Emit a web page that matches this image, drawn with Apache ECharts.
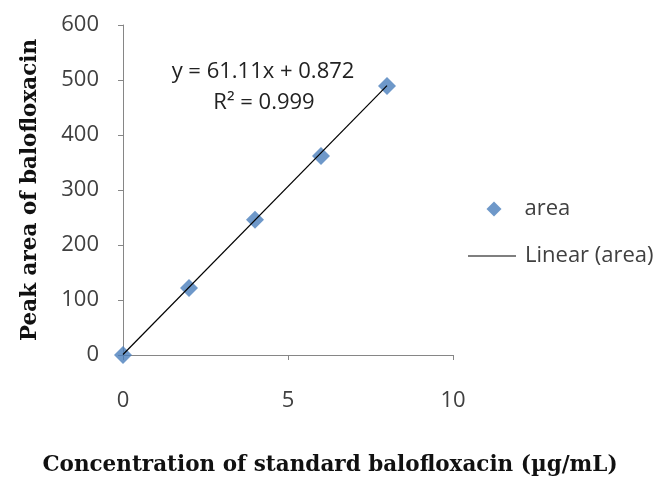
<!DOCTYPE html>
<html>
<head>
<meta charset="utf-8">
<script src="https://cdn.jsdelivr.net/npm/echarts@6/dist/echarts.min.js"></script>
<style>html,body{margin:0;padding:0;background:#fff;overflow:hidden;}#c{width:661px;height:482px;}</style>
</head>
<body>
<div id="c"></div>
<script>
var concentration = [0, 2, 4, 6, 8];
var peakArea = [0, 122, 246, 362, 489];
var trendX = [0, 8];
var trendY = [0.9, 489.8];
var equationText = 'y = 61.11x + 0.872';
var r2Text = 'R\u00b2 = 0.999';

var chart = echarts.init(document.getElementById('c'), null, {renderer: 'canvas', width: 661, height: 482});
var sans = '"Open Sans", "Liberation Sans", sans-serif';
var serif = '"DejaVu Serif", "Liberation Serif", serif';
var axisColor = '#868686';
var labelColor = '#404040';

chart.setOption({
  animation: false,
  backgroundColor: '#ffffff',
  grid: {left: 123, top: 25, width: 330, height: 330, containLabel: false},
  xAxis: {
    type: 'value', min: 0, max: 10, interval: 5,
    name: 'Concentration of standard balofloxacin (\u00b5g/mL)',
    nameLocation: 'middle', nameGap: 99,
    nameTextStyle: {fontFamily: serif, fontWeight: 'bold', fontSize: 21.5, color: '#111', padding: [0, 0, 0, 84]},
    axisLine: {show: true, lineStyle: {color: axisColor, width: 1}},
    axisTick: {show: true, inside: false, length: 5, lineStyle: {color: axisColor}},
    splitLine: {show: false},
    axisLabel: {margin: 35, fontFamily: sans, fontSize: 22, color: labelColor}
  },
  yAxis: {
    type: 'value', min: 0, max: 600, interval: 100,
    name: 'Peak area of balofloxacin',
    nameLocation: 'middle', nameGap: 82, nameRotate: 90,
    nameTextStyle: {fontFamily: serif, fontWeight: 'bold', fontSize: 21.5, color: '#111'},
    axisLine: {show: true, lineStyle: {color: axisColor, width: 1}},
    axisTick: {show: true, inside: false, length: 5, lineStyle: {color: axisColor}},
    splitLine: {show: false},
    axisLabel: {margin: 24, fontFamily: sans, fontSize: 22, color: labelColor}
  },
  legend: [
    {
      orient: 'vertical', left: 481.5, top: 193,
      itemWidth: 15, itemHeight: 15,
      textStyle: {fontFamily: sans, fontSize: 22, color: labelColor, padding: [0, 0, 0, 18]},
      data: [{name: 'area', icon: 'diamond'}]
    },
    {
      orient: 'vertical', left: 463, top: 240,
      itemWidth: 48, itemHeight: 1.2,
      textStyle: {fontFamily: sans, fontSize: 22, color: labelColor, padding: [0, 0, 0, 4]},
      data: [{name: 'Linear (area)', icon: 'rect', itemStyle: {color: '#000'}}]
    }
  ],
  graphic: [
    {type: 'text', style: {text: equationText, x: 263, y: 72, align: 'center', verticalAlign: 'middle', font: '22px ' + sans, fill: '#222'}},
    {type: 'text', style: {text: r2Text, x: 264, y: 103, align: 'center', verticalAlign: 'middle', font: '22px ' + sans, fill: '#222'}}
  ],
  series: [
    {
      name: 'area', type: 'scatter', symbol: 'diamond', symbolSize: 18,
      itemStyle: {color: '#4a7ebb'},
      data: concentration.map(function (x, i) { return [x, peakArea[i]]; }),
      z: 2
    },
    {
      name: 'Linear (area)', type: 'line', symbol: 'none',
      lineStyle: {color: '#000', width: 1.2},
      itemStyle: {color: '#000'},
      data: trendX.map(function (x, i) { return [x, trendY[i]]; }),
      z: 3
    }
  ]
});
</script>
</body>
</html>
